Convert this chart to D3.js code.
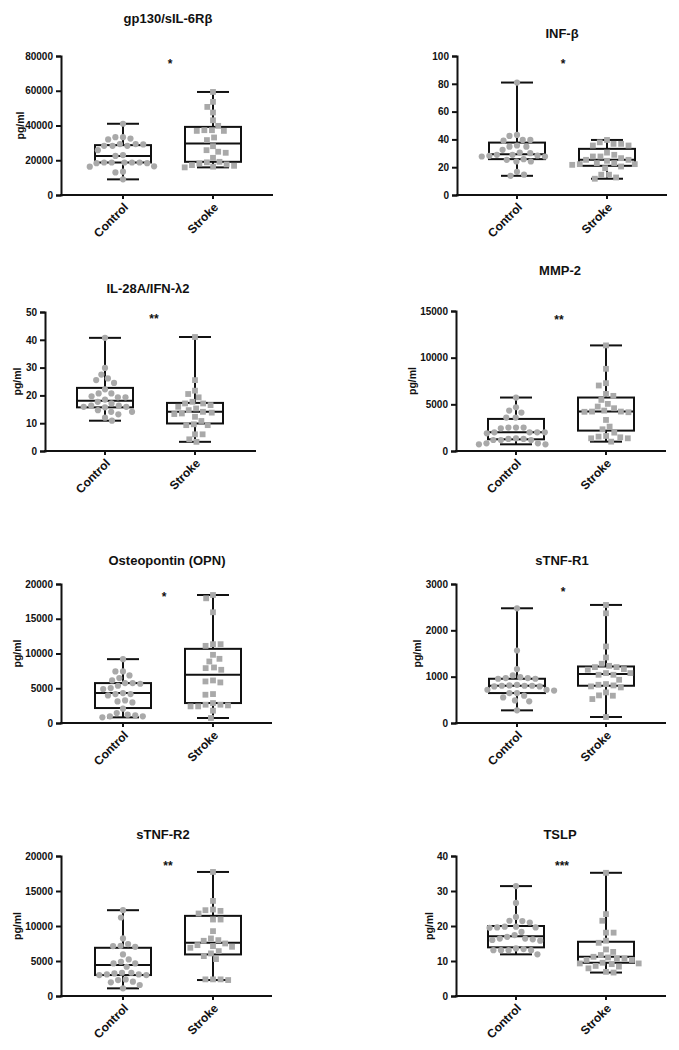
<!DOCTYPE html>
<html><head><meta charset="utf-8">
<script src="https://cdn.jsdelivr.net/npm/d3@7"></script>
<style>
body{margin:0;background:#fff;}
text{font-family:"Liberation Sans",Arial,sans-serif;font-weight:bold;fill:#111;}
</style></head>
<body><svg id="chart" width="679" height="1050"></svg>
<script>
const groups = ["Control", "Stroke"];
const titles = ["gp130/sIL-6Rβ", "INF-β", "IL-28A/IFN-λ2", "MMP-2", "Osteopontin (OPN)", "sTNF-R1", "sTNF-R2", "TSLP"];
const sigLabels = ["*", "*", "**", "**", "*", "*", "**", "***"];
const yLabels = ["pg/ml", "", "pg/ml", "pg/ml", "pg/ml", "pg/ml", "pg/ml", "pg/ml"];

const gp130Ticks = [0, 20000, 40000, 60000, 80000];
const infbTicks = [0, 20, 40, 60, 80, 100];
const il28Ticks = [0, 10, 20, 30, 40, 50];
const mmp2Ticks = [0, 5000, 10000, 15000];
const opnTicks = [0, 5000, 10000, 15000, 20000];
const tnfr1Ticks = [0, 1000, 2000, 3000];
const tnfr2Ticks = [0, 5000, 10000, 15000, 20000];
const tslpTicks = [0, 10, 20, 30, 40];

// box stats: [min, q1, median, q3, max]
const gp130Control = [41000, 33300, 32000, 32500, 33300, 28300, 28300, 29300, 28300, 29100, 29300, 25800, 23000, 22500, 18700, 18700, 18700, 18300, 18300, 18700, 18700, 16500, 16300, 13400, 13000, 9000];
const gp130ControlBox = [9000, 18700, 22400, 28700, 41000];
const gp130Stroke = [59300, 53600, 50700, 47500, 43000, 37300, 36900, 36900, 37300, 39800, 33100, 31600, 28100, 25800, 24300, 24900, 21400, 19100, 18200, 17200, 16800, 15900, 16300, 17600, 18800];
const gp130StrokeBox = [15900, 19100, 29700, 39200, 59300];

const infbControl = [80.9, 42.5, 39.1, 39.6, 39.6, 43.2, 34.8, 34.8, 35.6, 32.5, 30.5, 28.9, 28.2, 27.7, 27.7, 28.4, 28.9, 30.1, 25.3, 24.1, 24.1, 25.8, 16.7, 13.8, 14.6];
const infbControlBox = [13.8, 25.8, 29.4, 37.7, 80.9];
const infbStroke = [39.6, 36.8, 35.6, 35.6, 36.8, 37.9, 30.5, 27.7, 26.5, 27.7, 28.9, 24.6, 22.9, 22.2, 21.7, 22.2, 22.9, 25.3, 14.6, 12.6, 11.7, 14.6, 20.5, 19.3, 25.3];
const infbStrokeBox = [11.7, 21.0, 25.3, 33.2, 39.6];

const il28Control = [40.7, 29.9, 26.1, 27.5, 25.5, 24.5, 22.2, 20.7, 20.7, 19.3, 18.5, 19.3, 19.7, 17.7, 17.1, 16.3, 16.3, 15.7, 15.9, 15.9, 14.1, 13.2, 14.7, 14.1, 12.0, 10.9];
const il28ControlBox = [10.9, 15.7, 18.1, 22.7, 40.7];
const il28Stroke = [41.0, 25.5, 19.3, 20.5, 21.7, 16.5, 15.3, 17.1, 15.9, 17.1, 17.7, 14.1, 13.8, 13.3, 13.5, 12.3, 10.8, 9.3, 9.6, 9.3, 6.0, 6.0, 3.3, 4.2, 14.7];
const il28StrokeBox = [3.3, 9.9, 14.1, 17.3, 41.0];

const mmp2Control = [5728, 4332, 4690, 4117, 3580, 3580, 2506, 2506, 2506, 2434, 2005, 2005, 1897, 2005, 2005, 1360, 1289, 1181, 1181, 1181, 1289, 823, 716, 716, 823];
const mmp2ControlBox = [716, 1253, 2005, 3437, 5728];
const mmp2Stroke = [11313, 8807, 7267, 7017, 6122, 5907, 5477, 4761, 4332, 4224, 4153, 4224, 4582, 5048, 3329, 2327, 2613, 1969, 1611, 1468, 1360, 1360, 1539, 1002, 4200];
const mmp2StrokeBox = [1002, 2184, 4224, 5728, 11313];

const opnControl = [9187, 7416, 7416, 6459, 6124, 6842, 5742, 5646, 5359, 5742, 4880, 5024, 4163, 3971, 4163, 4306, 3254, 2967, 3110, 2057, 1196, 957, 813, 957, 1100, 1435];
const opnControlBox = [813, 2153, 4306, 5742, 9187];
const opnStroke = [18421, 17943, 15933, 11340, 11100, 11340, 9809, 9234, 8852, 7990, 7656, 7895, 5981, 5837, 6124, 4067, 4163, 2632, 2536, 2392, 2632, 2871, 1770, 718, 2392];
const opnStrokeBox = [718, 2871, 6938, 10670, 18421];

const tnfr1Control = [2476, 1565, 1163, 1026, 969, 955, 955, 969, 990, 825, 804, 804, 790, 790, 804, 811, 718, 718, 646, 589, 646, 488, 467, 553, 273, 700];
const tnfr1ControlBox = [273, 646, 804, 955, 2476];
const tnfr1Stroke = [2548, 2368, 1651, 1414, 1234, 1278, 1206, 1163, 1206, 1077, 1041, 1041, 1077, 933, 840, 811, 768, 790, 825, 660, 589, 517, 596, 129, 1150];
const tnfr1StrokeBox = [129, 804, 1055, 1220, 2548];

const tnfr2Control = [12257, 11211, 8219, 7173, 7031, 7126, 7411, 5226, 5938, 4656, 4180, 4656, 4893, 3325, 3230, 2993, 3088, 2993, 3088, 3325, 1948, 2375, 2280, 2043, 1093, 1568];
const tnfr2ControlBox = [1093, 2993, 4418, 6888, 12257];
const tnfr2Stroke = [17720, 13587, 11781, 12351, 12257, 12161, 10926, 10926, 9264, 7886, 8219, 7981, 7126, 6888, 7031, 7506, 6413, 5700, 5273, 6081, 2375, 2280, 2375, 2375, 7268];
const tnfr2StrokeBox = [2280, 5938, 7601, 11449, 17720];

const tslpControl = [31.4, 26.6, 22.6, 19.8, 19.5, 21.4, 21.0, 21.5, 19.8, 19.6, 19.6, 18.3, 17.4, 16.9, 16.2, 16.0, 15.8, 16.4, 16.4, 13.6, 13.1, 13.1, 13.1, 13.1, 13.4, 11.9];
const tslpControlBox = [11.9, 13.9, 17.1, 20.0, 31.4];
const tslpStroke = [35.2, 23.4, 21.5, 18.1, 18.1, 15.8, 15.2, 13.3, 12.6, 11.0, 10.7, 11.2, 11.7, 10.7, 9.3, 9.5, 9.1, 9.3, 10.3, 8.6, 8.4, 7.9, 6.7, 6.9, 10.3];
const tslpStrokeBox = [6.7, 9.5, 11.2, 15.5, 35.2];

const panelTicks = [gp130Ticks, infbTicks, il28Ticks, mmp2Ticks, opnTicks, tnfr1Ticks, tnfr2Ticks, tslpTicks];
const panelPoints = [[gp130Control, gp130Stroke], [infbControl, infbStroke], [il28Control, il28Stroke], [mmp2Control, mmp2Stroke],
  [opnControl, opnStroke], [tnfr1Control, tnfr1Stroke], [tnfr2Control, tnfr2Stroke], [tslpControl, tslpStroke]];
const panelBoxes = [[gp130ControlBox, gp130StrokeBox], [infbControlBox, infbStrokeBox], [il28ControlBox, il28StrokeBox], [mmp2ControlBox, mmp2StrokeBox],
  [opnControlBox, opnStrokeBox], [tnfr1ControlBox, tnfr1StrokeBox], [tnfr2ControlBox, tnfr2StrokeBox], [tslpControlBox, tslpStrokeBox]];

// layout (pixels)
const layout = [
  {ax: 61, xEnd: 273, top: 56, bottom: 195, c0: 123, c1: 213, tx: 168, ty: 18, sx: 170, sy: 61, lx: 21},
  {ax: 457, xEnd: 667, top: 56, bottom: 195, c0: 517, c1: 607, tx: 562, ty: 33, sx: 563, sy: 61, lx: 0},
  {ax: 45, xEnd: 256, top: 312, bottom: 451, c0: 105, c1: 195, tx: 148, ty: 288, sx: 154, sy: 316, lx: 18},
  {ax: 456, xEnd: 666, top: 311, bottom: 451, c0: 516, c1: 606, tx: 560, ty: 270, sx: 559, sy: 317, lx: 413},
  {ax: 61, xEnd: 272, top: 584, bottom: 723, c0: 123, c1: 213, tx: 167, ty: 560, sx: 164, sy: 594, lx: 18},
  {ax: 456, xEnd: 666, top: 584, bottom: 723, c0: 517, c1: 606, tx: 562, ty: 560, sx: 563, sy: 589, lx: 418},
  {ax: 61, xEnd: 272, top: 856, bottom: 996, c0: 123, c1: 213, tx: 163, ty: 834, sx: 168, sy: 863, lx: 18},
  {ax: 456, xEnd: 666, top: 856, bottom: 996, c0: 516, c1: 606, tx: 560, ty: 834, sx: 562, sy: 863, lx: 430}
];

const svg = d3.select("#chart");
svg.append("rect").attr("width", 679).attr("height", 1050).attr("fill", "#fff");
const pointColor = "#a9a9a9";

function swarm(vals, y, d) {
  const pts = vals.map(v => ({v, y: y(v)})).sort((a, b) => a.y - b.y);
  const placed = [];
  let flip = 1;
  pts.forEach(p => {
    const blocks = [];
    placed.forEach(q => {
      const dy = Math.abs(q.y - p.y);
      if (dy < d) { const w = Math.sqrt(d * d - dy * dy); blocks.push([q.x - w, q.x + w]); }
    });
    const cands = [0];
    blocks.forEach(b => cands.push(b[0], b[1]));
    cands.sort((a, b) => (Math.abs(a) - Math.abs(b)) || (flip * (a - b)));
    const ok = x => blocks.every(b => x <= b[0] + 1e-6 || x >= b[1] - 1e-6);
    p.x = cands.find(ok);
    if (p.x !== 0) flip = -flip;
    placed.push(p);
  });
  return pts;
}

layout.forEach((L, i) => {
  const g = svg.append("g");
  const ticks = panelTicks[i];
  const y = d3.scaleLinear().domain([0, d3.max(ticks)]).range([L.bottom, L.top]);
  const x = d3.scalePoint().domain(groups).range([L.c0, L.c1]);

  // title
  g.append("text").attr("x", L.tx).attr("y", L.ty + 4.7).attr("text-anchor", "middle")
    .style("font-size", "13px").text(titles[i]);

  // y axis
  const yAxis = g.append("g").attr("transform", `translate(${L.ax},0)`)
    .call(d3.axisLeft(y).tickValues(ticks).tickFormat(d3.format("d")).tickSizeOuter(0).tickSize(5).tickPadding(3));
  yAxis.select(".domain").attr("stroke", "#111").attr("stroke-width", 2);
  yAxis.selectAll(".tick line").attr("stroke", "#111").attr("stroke-width", 2);
  yAxis.selectAll(".tick text").attr("fill", "#111").style("font-size", "10px")
    .style("font-family", '"Liberation Sans",Arial,sans-serif').style("font-weight", "bold");

  // x axis
  const xAxisG = g.append("g");
  xAxisG.append("line").attr("x1", L.ax - 1).attr("x2", L.xEnd).attr("y1", L.bottom).attr("y2", L.bottom)
    .attr("stroke", "#111").attr("stroke-width", 2);
  groups.forEach(c => {
    xAxisG.append("line").attr("x1", x(c)).attr("x2", x(c)).attr("y1", L.bottom).attr("y2", L.bottom + 4)
      .attr("stroke", "#111").attr("stroke-width", 2);
    xAxisG.append("text").attr("transform", `translate(${x(c) + 3},${L.bottom + 10}) rotate(-45)`)
      .attr("text-anchor", "end").attr("dy", "0.35em").style("font-size", "12px").text(c);
  });

  // y label
  if (yLabels[i]) {
    const mid = (L.top + L.bottom) / 2;
    g.append("text").attr("transform", `translate(${L.lx + 3},${mid}) rotate(-90)`)
      .attr("text-anchor", "middle").style("font-size", "10.5px").text(yLabels[i]);
  }

  // significance
  g.append("text").attr("x", L.sx).attr("y", L.sy + 7).attr("text-anchor", "middle")
    .style("font-size", "12px").text(sigLabels[i]);

  // boxes
  groups.forEach((c, gi) => {
    const b = panelBoxes[i][gi];
    const cx = x(c);
    const bw = 56, cw = 32;
    const bg = g.append("g").attr("stroke", "#111").attr("stroke-width", 2).attr("fill", "none");
    bg.append("line").attr("x1", cx).attr("x2", cx).attr("y1", y(b[0])).attr("y2", y(b[1]));
    bg.append("line").attr("x1", cx).attr("x2", cx).attr("y1", y(b[3])).attr("y2", y(b[4]));
    bg.append("line").attr("x1", cx - cw / 2).attr("x2", cx + cw / 2).attr("y1", y(b[0])).attr("y2", y(b[0]));
    bg.append("line").attr("x1", cx - cw / 2).attr("x2", cx + cw / 2).attr("y1", y(b[4])).attr("y2", y(b[4]));
    bg.append("rect").attr("x", cx - bw / 2).attr("width", bw).attr("y", y(b[3])).attr("height", y(b[1]) - y(b[3]));
    bg.append("line").attr("x1", cx - bw / 2).attr("x2", cx + bw / 2).attr("y1", y(b[2])).attr("y2", y(b[2]));
  });

  // points
  groups.forEach((c, gi) => {
    const pts = swarm(panelPoints[i][gi], y, 7.6);
    const cx = x(c);
    if (gi === 0) {
      g.selectAll(null).data(pts).enter().append("circle")
        .attr("cx", d => cx + d.x).attr("cy", d => d.y).attr("r", 3.1).attr("fill", pointColor);
    } else {
      g.selectAll(null).data(pts).enter().append("rect")
        .attr("x", d => cx + d.x - 2.9).attr("y", d => d.y - 2.9).attr("width", 5.8).attr("height", 5.8).attr("fill", pointColor);
    }
  });
});
</script></body></html>
